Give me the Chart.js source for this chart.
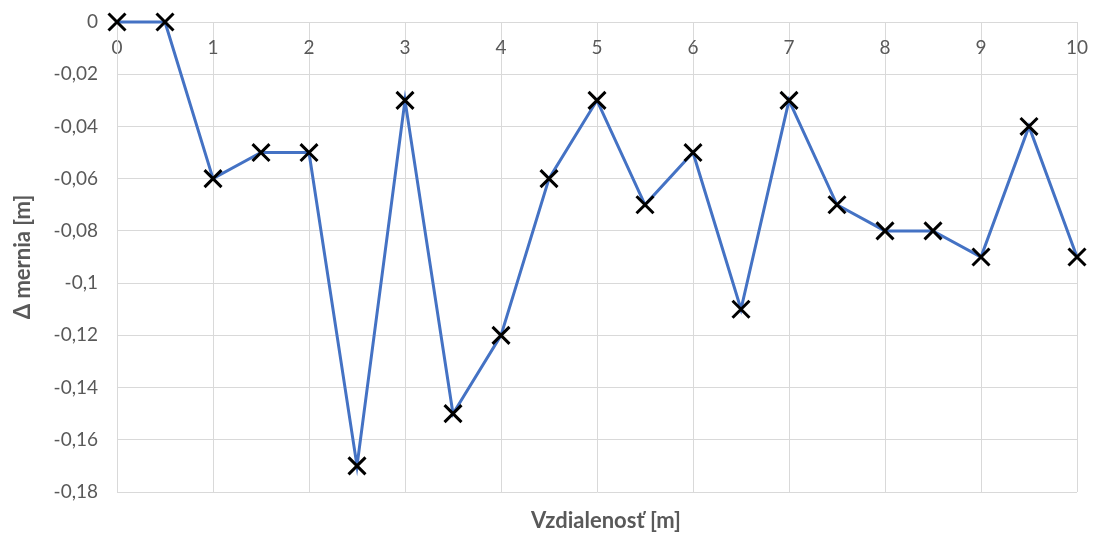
<!DOCTYPE html>
<html>
<head>
<meta charset="utf-8">
<script src="https://cdn.jsdelivr.net/npm/chart.js@4.4.0/dist/chart.umd.min.js"></script>
<style>
  html, body { margin: 0; padding: 0; background: #ffffff; }
  #wrap { width: 1096px; height: 544px; }
</style>
</head>
<body>
<div id="wrap"><canvas id="c" width="1096" height="544"></canvas></div>
<script>
const distances = [0, 0.5, 1, 1.5, 2, 2.5, 3, 3.5, 4, 4.5, 5, 5.5, 6, 6.5, 7, 7.5, 8, 8.5, 9, 9.5, 10];
const deltas = [0, 0, -0.06, -0.05, -0.05, -0.17, -0.03, -0.15, -0.12, -0.06, -0.03, -0.07, -0.05, -0.11, -0.03, -0.07, -0.08, -0.08, -0.09, -0.04, -0.09];
const xTitle = 'Vzdialenosť [m]';
const yTitle = 'Δ mernia [m]';

const points = distances.map((d, i) => ({ x: d, y: deltas[i] }));
const FONT = 'Lato, "Open Sans", sans-serif';
const GREY = '#595959';
const GRID = '#d9d9d9';

const fmt = v => {
  const r = Math.round(v * 100) / 100;
  return String(r === 0 ? 0 : r).replace('.', ',');
};
const noPad = s => { s.paddingTop = 0; s.paddingBottom = 0; s.paddingLeft = 0; s.paddingRight = 0; };

const shiftTitle = {
  id: 'shiftTitle',
  afterLayout(chart) {
    const s = chart.scales.x2;
    if (s) { s.left += 9; s.right += 9; }
  }
};

new Chart(document.getElementById('c'), {
  type: 'line',
  data: {
    datasets: [{
      data: points,
      borderColor: '#4472C4',
      borderWidth: 3,
      pointStyle: 'crossRot',
      pointRadius: 12,
      pointHoverRadius: 12,
      pointBorderColor: '#000000',
      pointBorderWidth: 3,
      tension: 0,
      clip: false
    }]
  },
  plugins: [shiftTitle],
  options: {
    responsive: false,
    animation: false,
    layout: { padding: { left: 0, right: 19, top: 0, bottom: 0 } },
    plugins: { legend: { display: false }, tooltip: { enabled: false } },
    scales: {
      x: {
        type: 'linear',
        position: 'top',
        min: 0, max: 10,
        afterFit: s => { s.height = 22; noPad(s); },
        ticks: { stepSize: 1, mirror: true, padding: 14, maxRotation: 0, color: GREY, font: { family: FONT, size: 19 } },
        grid: { color: GRID, lineWidth: 1, drawTicks: false },
        border: { color: GRID, width: 1 }
      },
      x2: {
        type: 'linear',
        position: 'bottom',
        min: 0, max: 10,
        afterFit: s => { s.height = 52; noPad(s); },
        ticks: { display: false },
        grid: { display: false, drawTicks: false },
        border: { display: false },
        title: { display: true, text: xTitle, color: GREY, font: { family: FONT, size: 22, weight: 'bold' }, padding: { top: 0, bottom: 10 } }
      },
      y: {
        type: 'linear',
        min: -0.18, max: 0,
        afterFit: s => { s.width = 117; noPad(s); },
        ticks: { stepSize: 0.02, padding: 19, color: GREY, font: { family: FONT, size: 19 }, callback: v => fmt(v) },
        grid: { color: GRID, lineWidth: 1, drawTicks: false },
        border: { color: GRID, width: 1 },
        title: { display: true, text: yTitle, color: GREY, font: { family: FONT, size: 22, weight: 'bold' }, padding: { top: 10, bottom: 0 } }
      }
    }
  }
});
</script>
</body>
</html>
